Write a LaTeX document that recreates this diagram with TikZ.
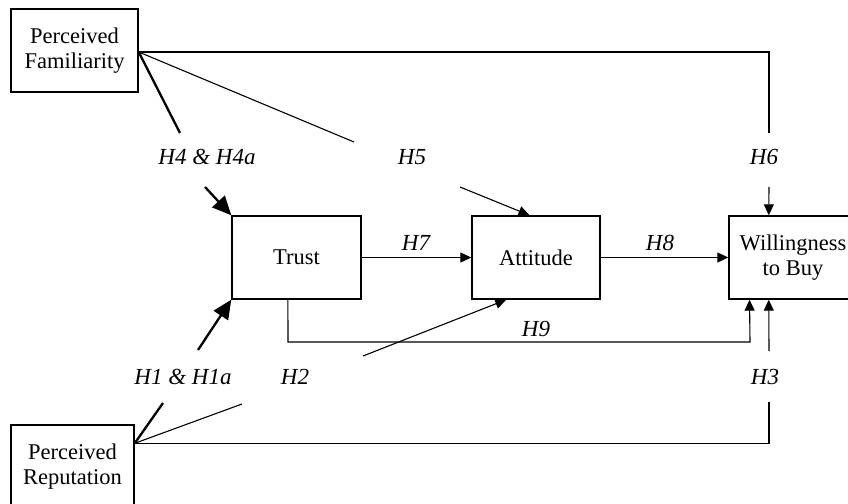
\documentclass[tikz,border=0pt]{standalone}
\usepackage{fontspec}
\setmainfont{Liberation Serif}
\usetikzlibrary{arrows.meta,calc}
\begin{document}
\begin{tikzpicture}[x=1pt,y=-1pt,
  box/.style={draw,line width=1.4pt,minimum width=128pt,minimum height=83pt,inner sep=0pt,align=center,font=\fontsize{22.5}{24.5}\selectfont},
  lab/.style={font=\fontsize{23}{25}\selectfont\itshape,inner sep=0pt},
  thin/.style={line width=1.1pt},
  thick/.style={line width=2.3pt},
  tarr/.style={thin,-{Triangle[length=11pt,width=10pt]}},
  karr/.style={thick,-{Triangle[length=19pt,width=17pt]}}]
\useasboundingbox (0,0) rectangle (848,503);
\begin{scope}
\clip (0,0) rectangle (848,503);
\node[box,minimum width=127pt] (PF) at (74.5,50.5) {Perceived\\Familiarity};
\node[box,minimum width=129pt] (T) at (296.5,257.5) {Trust};
\node[box] (A) at (536,257.5) {Attitude};
\node[box] (W) at (793,257.5) {Willingness\\to Buy};
\node[box,minimum width=123pt] (PR) at (72.5,466.5) {Perceived\\Reputation};

\coordinate (pfc) at ([yshift=-1.5pt]PF.east);
\coordinate (prc) at ([yshift=-19pt]PR.north east);

% free ends
\coordinate (h4a) at (180,133);
\coordinate (h4b) at (205,187);
\coordinate (h5a) at (354,142);
\coordinate (h5b) at (460,187);
\coordinate (h6a) at (769,133);
\coordinate (h6b) at (769,187);
\coordinate (h1a) at (163,403);
\coordinate (h1b) at (198,350);
\coordinate (h2a) at (242,404);
\coordinate (h2b) at (363,356);
\coordinate (h3a) at (769,402);
\coordinate (h3b) at (769,351);
\coordinate (h9c) at (288,342);
\coordinate (h9d) at (750,342);

% targets on boxes
\coordinate (Atop) at ($(A.north west)!0.45!(A.north east)$);
\coordinate (Wtop) at ($(W.north west)!0.3125!(W.north east)$);
\coordinate (Abot) at ($(A.south west)!0.27!(A.south east)$);
\coordinate (Tbot) at ($(T.south west)!0.434!(T.south east)$);
\coordinate (Wbot1) at ($(W.south west)!0.164!(W.south east)$);
\coordinate (Wbot2) at ($(W.south west)!0.3125!(W.south east)$);

% labels
\node[lab] (L4) at (207,157) {H4 \& H4a};
\node[lab] (L5) at (412,157) {H5};
\node[lab] (L6) at (764,157) {H6};
\node[lab] (L7) at (416,243) {H7};
\node[lab] (L8) at (660,243) {H8};
\node[lab] (L9) at (536,329) {H9};
\node[lab] (L1) at (183,377) {H1 \& H1a};
\node[lab] (L2) at (295,377) {H2};
\node[lab] (L3) at (765,377) {H3};

% H4
\draw[thick] (pfc) -- (h4a);
\draw[karr] (h4b) -- (T.north west);
% H5
\draw[thin] (pfc) -- (h5a);
\draw[tarr] (h5b) -- (Atop);
% H6
\draw[thin] (pfc) -| (h6a);
\draw[tarr] (h6b) -- (Wtop);
% H7, H8
\draw[tarr] (T.east) -- (A.west);
\draw[tarr] (A.east) -- (W.west);
% H9
\draw[tarr] (Tbot) -- (h9c) -- (h9d) -- (Wbot1);
% H1
\draw[thick] (prc) -- (h1a);
\draw[karr] (h1b) -- (T.south west);
% H2
\draw[thin] (prc) -- (h2a);
\draw[tarr] (h2b) -- (Abot);
% H3
\draw[thin] (prc) -| (h3a);
\draw[tarr] (h3b) -- (Wbot2);
\end{scope}
\end{tikzpicture}
\end{document}
